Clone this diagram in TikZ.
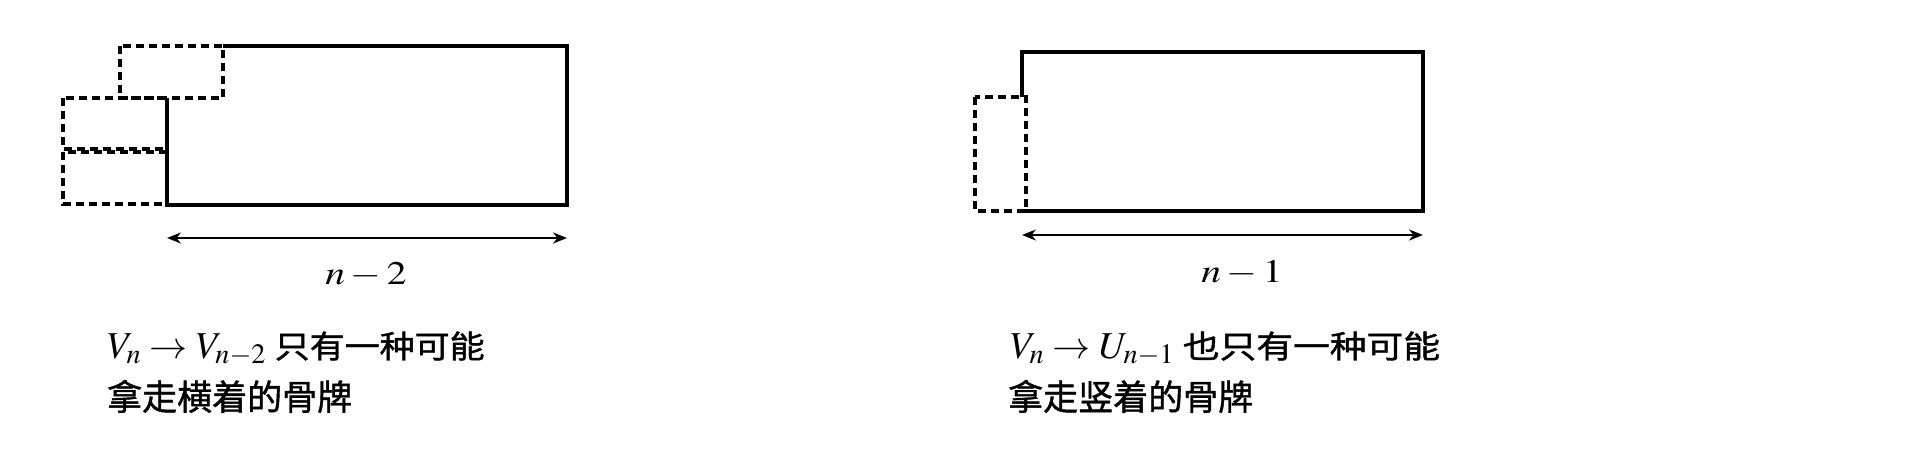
\documentclass[tikz,border=0pt]{standalone}
\usepackage{mathptmx}
\usepackage{fontspec}
\setmainfont{Liberation Serif}
\newfontfamily\cjk{Noto Sans CJK SC}[FakeBold=1.2]
\usetikzlibrary{arrows.meta}
\begin{document}
\begin{tikzpicture}[x=1pt,y=-1pt,
  solidline/.style={line width=3.5pt, line join=miter},
  dashline/.style={line width=4.5pt, dash pattern=on 8pt off 5pt},
  dimline/.style={line width=2pt, {Stealth[length=14pt,width=11pt]}-{Stealth[length=14pt,width=11pt]}},
  lab/.style={inner sep=0pt, anchor=base, font=\fontsize{33}{40}\selectfont},
  txt/.style={inner sep=0pt, anchor=base west, font=\fontsize{35}{40}\selectfont}]
\useasboundingbox (0,0) rectangle (1920,460);
\fill[white] (0,0) rectangle (1920,460);
% left figure
\coordinate (a1) at (223,46);
\coordinate (a2) at (567,46);
\coordinate (a3) at (567,205);
\coordinate (a4) at (167,205);
\coordinate (a5) at (167,98);
\draw[solidline] (a1) -- (a2) -- (a3) -- (a4) -- (a5);
\draw[dashline] (120,46) rectangle (223,98);
\draw[dashline] (63,98) rectangle (167,149);
\draw[dashline] (63,152) rectangle (167,204);
\coordinate (da) at (167,238);
\coordinate (db) at (567,238);
\draw[dimline] (da) -- (db);
\node[lab] (n2) at (366,284) {\scalebox{1.2}[1]{$n-2$}};
\node[txt] (t1) at (107,358) {{\fontsize{38}{40}\selectfont$V_n \to V_{n-2}$} \scalebox{1}[0.9]{\cjk 只有一种可能}};
\node[txt] (t2) at (107,410) {\cjk 拿走横着的骨牌};
% right figure
\coordinate (b1) at (1022,97);
\coordinate (b2) at (1022,52);
\coordinate (b3) at (1423,52);
\coordinate (b4) at (1423,211);
\coordinate (b5) at (1022,211);
\draw[solidline] (b1) -- (b2) -- (b3) -- (b4) -- (b5);
\draw[dashline] (975,97) rectangle (1026,211);
\coordinate (dc) at (1022,235);
\coordinate (dd) at (1423,235);
\draw[dimline] (dc) -- (dd);
\node[lab] (n1) at (1242,282) {\scalebox{1.2}[1]{$n-1$}};
\node[txt] (t3) at (1010,358) {{\fontsize{38}{40}\selectfont$V_n \to U_{n-1}$} \scalebox{1.05}[0.9]{\cjk 也只有一种可能}};
\node[txt] (t4) at (1008,410) {\cjk 拿走竖着的骨牌};
\end{tikzpicture}
\end{document}
